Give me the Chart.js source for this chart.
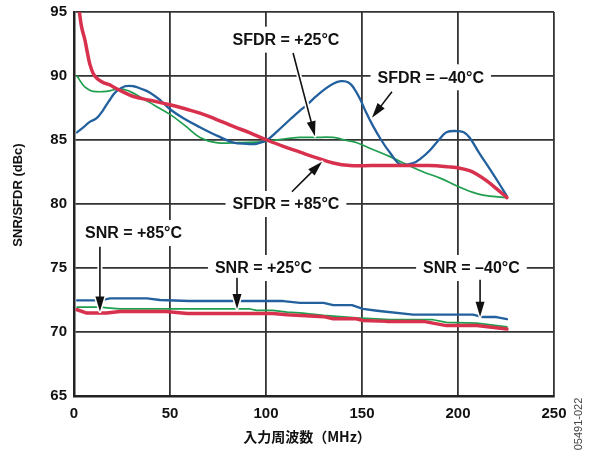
<!DOCTYPE html>
<html>
<head>
<meta charset="utf-8">
<script src="https://cdn.jsdelivr.net/npm/chart.js@4.4.1/dist/chart.umd.min.js"></script>
<style>
html,body{margin:0;padding:0;background:#fff;}
canvas{display:block;}
</style>
</head>
<body>
<canvas id="c" width="591" height="452"></canvas>
<script>
// ---- Data (MHz, dBc) ----
const xTicks = [0, 50, 100, 150, 200, 250];
const yTicks = [65, 70, 75, 80, 85, 90, 95];

const sfdr85X = [2.8, 4, 5.7, 7, 8.3, 10, 12, 15, 18.7, 21, 25, 31, 39.6, 50, 58.7, 65.6, 74.3, 83, 91.7, 100.5, 109, 117.7, 126.5, 135, 143.7, 155, 170, 185, 195, 201, 206, 210, 215, 220, 225.5];
const sfdr85Y = [95.0, 93.8, 92.8, 91.8, 90.9, 90.2, 89.8, 89.5, 89.3, 89.1, 88.8, 88.4, 88.1, 87.75, 87.4, 87.1, 86.6, 86.06, 85.56, 85.0, 84.5, 84.05, 83.6, 83.2, 83.0, 83.0, 83.0, 83.0, 82.9, 82.8, 82.6, 82.3, 81.8, 81.2, 80.5];

const sfdrM40X = [1.6, 5, 8, 11.8, 15, 18, 22, 26.6, 31, 35, 39.6, 45, 50, 57, 65.6, 75, 83, 90, 95, 100.5, 106, 112.5, 117.7, 121, 126, 130, 135, 139, 143, 146, 149, 152, 155.7, 160, 164.6, 170, 176.6, 181, 185.4, 190, 194, 199.5, 203, 206, 211, 216.7, 221, 225.5];
const sfdrM40Y = [85.6, 86.0, 86.4, 86.7, 87.3, 88.0, 88.8, 89.2, 89.2, 89.0, 88.7, 88.1, 87.4, 86.7, 86.0, 85.3, 84.8, 84.7, 84.7, 85.0, 85.7, 86.6, 87.3, 87.7, 88.4, 88.9, 89.4, 89.6, 89.5, 89.0, 88.2, 87.2, 86.1, 85.0, 84.0, 83.1, 83.2, 83.6, 84.2, 85.0, 85.6, 85.7, 85.6, 85.2, 84.0, 82.7, 81.7, 80.6];

const sfdr25X = [1.6, 4.7, 7, 10, 17, 24, 29, 34, 42, 50, 58, 65.6, 74, 86, 100.5, 110, 117.7, 125, 135, 141, 147, 155, 164.6, 173, 182, 191, 199.5, 206, 213, 225.5];
const sfdr25Y = [90.0, 89.3, 89.0, 88.8, 88.8, 89.0, 88.8, 88.4, 87.7, 87.0, 86.1, 85.2, 84.8, 84.8, 84.9, 85.1, 85.2, 85.2, 85.2, 85.0, 84.8, 84.3, 83.7, 83.1, 82.5, 82.0, 81.4, 81.0, 80.7, 80.5];

const snrM40X = [1.6, 13.5, 18.8, 38, 44.8, 60, 109, 117.7, 130, 135, 144.8, 150.5, 157.8, 176.6, 207.8, 213, 220, 225.5];
const snrM40Y = [72.47, 72.47, 72.63, 72.63, 72.5, 72.42, 72.42, 72.27, 72.27, 72.1, 72.1, 71.8, 71.66, 71.35, 71.35, 71.17, 71.17, 71.0];

const snr25X = [1.6, 13.5, 18.8, 24, 91.7, 95, 103.6, 111, 117.7, 130, 147.2, 164.6, 187, 194, 209.7, 225.5];
const snr25Y = [71.95, 71.95, 71.87, 71.8, 71.8, 71.69, 71.69, 71.55, 71.5, 71.3, 71.1, 70.96, 70.96, 70.75, 70.7, 70.4];

const snr85X = [1.6, 6.7, 17, 24, 48, 59, 103.6, 111, 130, 135, 147, 150.5, 162.8, 182, 194, 209.7, 225.5];
const snr85Y = [71.74, 71.48, 71.48, 71.6, 71.6, 71.45, 71.45, 71.35, 71.2, 71.04, 71.04, 70.9, 70.83, 70.83, 70.5, 70.5, 70.23];

// ---- Annotations (data coordinates) ----
const notes = [
  {text: 'SFDR = +25°C', x: 110.4, y: 92.84, ax: 114.1, ay: 91.8, tx: 125.5, ty: 85.3},
  {text: 'SFDR = –40°C', x: 185.8, y: 89.9, ax: 165.6, ay: 88.77, tx: 155.2, ty: 86.74},
  {text: 'SFDR = +85°C', x: 110.4, y: 80.0, ax: 113.5, ay: 80.96, tx: 129.2, ty: 83.3},
  {text: 'SNR = +85°C', x: 31.0, y: 77.73, ax: 13.5, ay: 76.66, tx: 13.5, ty: 71.6},
  {text: 'SNR = +25°C', x: 98.7, y: 75.0, ax: 84.9, ay: 74.24, tx: 84.9, ty: 71.8},
  {text: 'SNR = –40°C', x: 207.0, y: 75.0, ax: 211.5, ay: 74.09, tx: 211.5, ty: 71.2}
];

const RED = '#d8314e', BLUE = '#22609e', GREEN = '#1f9e4d';
const FONT = "'Liberation Sans', Arial, Helvetica, sans-serif";

function pts(xs, ys) { return xs.map((x, i) => ({x: x, y: ys[i]})); }

const noteFont = 'bold 16px ' + FONT;

const annotPlugin = {
  id: 'annot',
  beforeDatasetsDraw(chart) {
    const ctx = chart.ctx, xs = chart.scales.x, ys = chart.scales.y;
    ctx.save();
    ctx.font = noteFont;
    ctx.fillStyle = '#fff';
    notes.forEach(n => {
      const w = ctx.measureText(n.text).width + 14;
      const px = xs.getPixelForValue(n.x), py = ys.getPixelForValue(n.y);
      ctx.fillRect(px - w / 2, py - 13, w, 26);
    });
    ctx.restore();
  },
  afterDatasetsDraw(chart) {
    const ctx = chart.ctx, xs = chart.scales.x, ys = chart.scales.y;
    ctx.save();
    notes.forEach(n => {
      const x1 = xs.getPixelForValue(n.ax), y1 = ys.getPixelForValue(n.ay);
      const x2 = xs.getPixelForValue(n.tx), y2 = ys.getPixelForValue(n.ty);
      const ang = Math.atan2(y2 - y1, x2 - x1);
      const hl = 15, hw = 4.5;
      const bx = x2 - hl * Math.cos(ang), by = y2 - hl * Math.sin(ang);
      const path = () => {
        ctx.beginPath();
        ctx.moveTo(x2, y2);
        ctx.lineTo(bx + hw * Math.sin(ang), by - hw * Math.cos(ang));
        ctx.lineTo(bx - hw * Math.sin(ang), by + hw * Math.cos(ang));
        ctx.closePath();
      };
      ctx.strokeStyle = '#fff';
      ctx.lineWidth = 5;
      ctx.lineCap = 'butt';
      ctx.beginPath(); ctx.moveTo(x1, y1); ctx.lineTo(bx, by); ctx.stroke();
      ctx.lineJoin = 'round';
      ctx.lineWidth = 3;
      path(); ctx.stroke();
      ctx.strokeStyle = '#111';
      ctx.fillStyle = '#111';
      ctx.lineWidth = 1.6;
      ctx.beginPath(); ctx.moveTo(x1, y1); ctx.lineTo(bx + Math.cos(ang), by + Math.sin(ang)); ctx.stroke();
      path(); ctx.fill();
    });
    ctx.font = noteFont;
    ctx.fillStyle = '#111';
    ctx.textAlign = 'center';
    ctx.textBaseline = 'middle';
    notes.forEach(n => {
      ctx.fillText(n.text, xs.getPixelForValue(n.x), ys.getPixelForValue(n.y) + 1);
    });
    ctx.restore();
  },
  afterDraw(chart) {
    const ctx = chart.ctx;
    ctx.save();
    ctx.fillStyle = '#111';
    ctx.textAlign = 'center';
    ctx.textBaseline = 'middle';
    ctx.font = "bold 14px 'Noto Sans CJK JP', " + FONT;
    ctx.fillText('入力周波数（MHz）', 307, 437);
    ctx.translate(18, 195);
    ctx.rotate(-Math.PI / 2);
    ctx.font = 'bold 13px ' + FONT;
    ctx.fillText('SNR/SFDR (dBc)', 0, 0);
    ctx.restore();
    ctx.save();
    ctx.translate(579, 424);
    ctx.rotate(-Math.PI / 2);
    ctx.fillStyle = '#444';
    ctx.textAlign = 'center';
    ctx.textBaseline = 'middle';
    ctx.font = '11px ' + FONT;
    ctx.fillText('05491-022', 0, 0);
    ctx.restore();
  }
};

function ds(data, color, width, tension) {
  return {data: data, borderColor: color, borderWidth: width, pointRadius: 0, showLine: true, fill: false, tension: tension, cubicInterpolationMode: 'default', borderJoinStyle: 'round', borderCapStyle: 'round'};
}

new Chart(document.getElementById('c'), {
  type: 'scatter',
  data: {
    datasets: [
      ds(pts(sfdr85X, sfdr85Y), RED, 3.5, 0.4),
      ds(pts(snr85X, snr85Y), RED, 3.5, 0),
      ds(pts(sfdrM40X, sfdrM40Y), BLUE, 2.3, 0.4),
      ds(pts(snrM40X, snrM40Y), BLUE, 2.3, 0),
      ds(pts(sfdr25X, sfdr25Y), GREEN, 1.7, 0.4),
      ds(pts(snr25X, snr25Y), GREEN, 1.7, 0)
    ]
  },
  options: {
    responsive: false,
    animation: false,
    devicePixelRatio: 1,
    layout: {padding: {top: 12, right: 37, left: 0, bottom: 0}},
    plugins: {legend: {display: false}, tooltip: {enabled: false}},
    scales: {
      x: {
        type: 'linear', min: 0, max: 250,
        afterBuildTicks(s) { s.ticks = xTicks.map(v => ({value: v})); },
        afterFit(s) { s.height = 56; s.paddingLeft = 0; s.paddingRight = 0; },
        grid: {color: '#333', lineWidth: 1.8, drawTicks: false},
        border: {display: true, color: '#222', width: 2.5},
        ticks: {padding: 9, color: '#111', font: {family: FONT, size: 15, weight: 'bold'}, maxRotation: 0}
      },
      y: {
        type: 'linear', min: 65, max: 95,
        afterBuildTicks(s) { s.ticks = yTicks.map(v => ({value: v})); },
        afterFit(s) { s.width = 74; s.paddingTop = 0; s.paddingBottom = 0; },
        grid: {color: '#333', lineWidth: 1.8, drawTicks: false},
        border: {display: true, color: '#222', width: 2.5},
        ticks: {padding: 7, color: '#111', font: {family: FONT, size: 15, weight: 'bold'}}
      }
    }
  },
  plugins: [annotPlugin]
});
</script>
</body>
</html>
